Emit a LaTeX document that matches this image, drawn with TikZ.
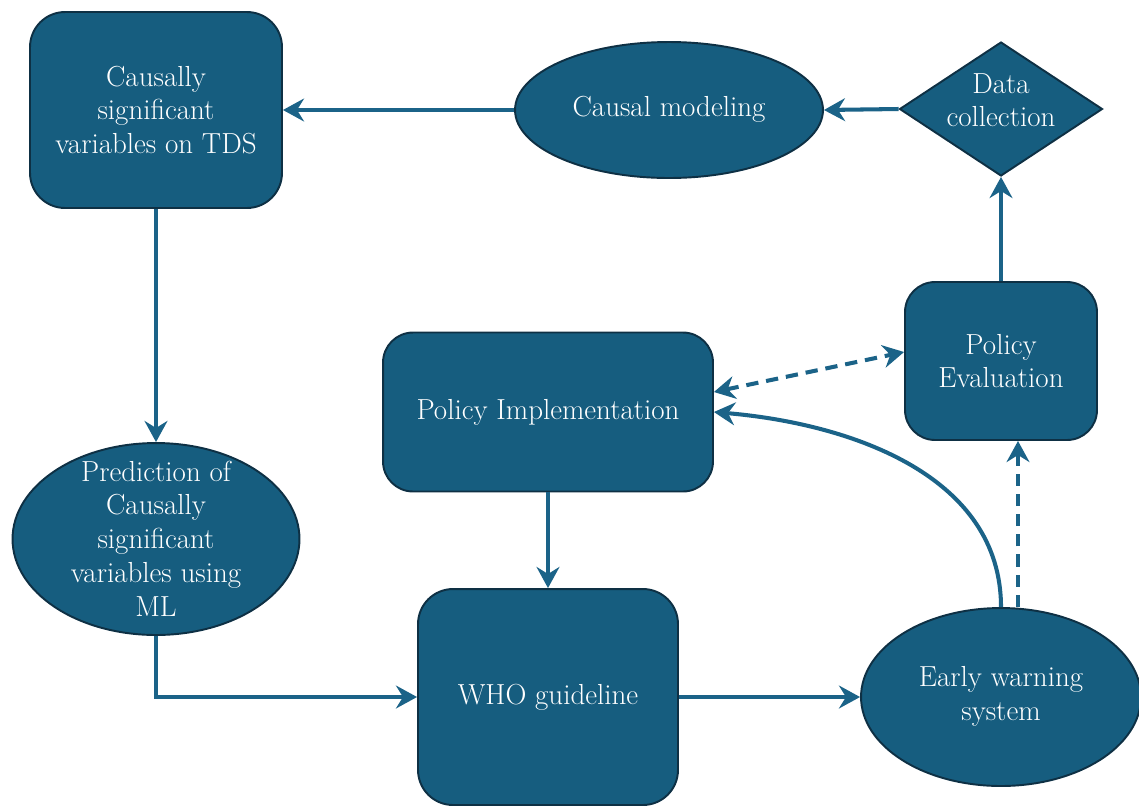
\documentclass[tikz,border=0pt]{standalone}
\usetikzlibrary{shapes.geometric,arrows.meta}
\definecolor{nodefill}{RGB}{22,93,127}
\definecolor{nodeline}{RGB}{14,48,68}
\definecolor{arrowcol}{RGB}{27,99,136}
\newcommand{\ctext}[2][-4pt]{\smash{\raisebox{#1}{\begin{tabular}{@{}c@{}}#2\end{tabular}}}}
\begin{document}
\begin{tikzpicture}[x=0.02cm,y=-0.02cm,
  >={Stealth[length=12pt,width=13pt,inset=4pt]},
  base/.style={fill=nodefill, draw=nodeline, line width=1.1pt, text=white,
    font=\fontsize{16.5}{19.2}\selectfont, align=center, inner sep=0pt},
  rbox/.style={base, rectangle, rounded corners=0.7cm},
  oval/.style={base, ellipse},
  dia/.style={base, diamond},
  conn/.style={draw=arrowcol, line width=2.3pt, ->},
  dconn/.style={conn, dash pattern=on 7pt off 4.5pt},
]
\useasboundingbox (0,0) rectangle (1139,806);

\node[rbox, minimum width=5.04cm, minimum height=3.92cm] (tds) at (156,110) {Causally\\significant\\variables on TDS};
\node[oval, minimum width=6.16cm, minimum height=2.72cm] (cm) at (669,110) {\ctext{Causal modeling}};
\node[dia, minimum width=4.06cm, minimum height=2.68cm] (dc) at (1001,109) {\ctext[-1pt]{Data\\collection}};
\node[rbox, minimum width=3.84cm, minimum height=3.16cm, rounded corners=0.6cm] (pe) at (1001,361) {Policy\\Evaluation};
\node[rbox, minimum width=6.6cm, minimum height=3.18cm, rounded corners=0.6cm] (pi) at (548,412) {Policy Implementation};
\node[oval, minimum width=5.74cm, minimum height=3.84cm] (pred) at (156,539) {\ctext[-6pt]{Prediction of\\Causally\\significant\\variables using\\ML}};
\node[rbox, minimum width=5.2cm, minimum height=4.32cm] (who) at (548,697) {WHO guideline};
\node[oval, minimum width=5.6cm, minimum height=3.56cm] (ew) at (1001,697) {\ctext{Early warning\\system}};

\draw[conn] (cm.west) -- (tds.east);
\draw[conn] (dc.west) -- (cm.east);
\draw[conn] (pe.north) -- (dc.south);
\draw[conn] (tds.south) -- (pred.north);
\draw[conn] (pred.south) |- (who.west);
\draw[conn] (pi.south) -- (who.north);
\draw[conn] (who.east) -- (ew.west);
\draw[conn] (ew.north) .. controls +(0,-130) and +(140,12) .. (pi.east);
\draw[dconn] ([xshift=0.34cm]ew.north) -- ([xshift=0.34cm]pe.south);
\draw[dconn, <->] ([yshift=0.4cm]pi.east) -- ([yshift=0.18cm]pe.west);
\end{tikzpicture}
\end{document}
